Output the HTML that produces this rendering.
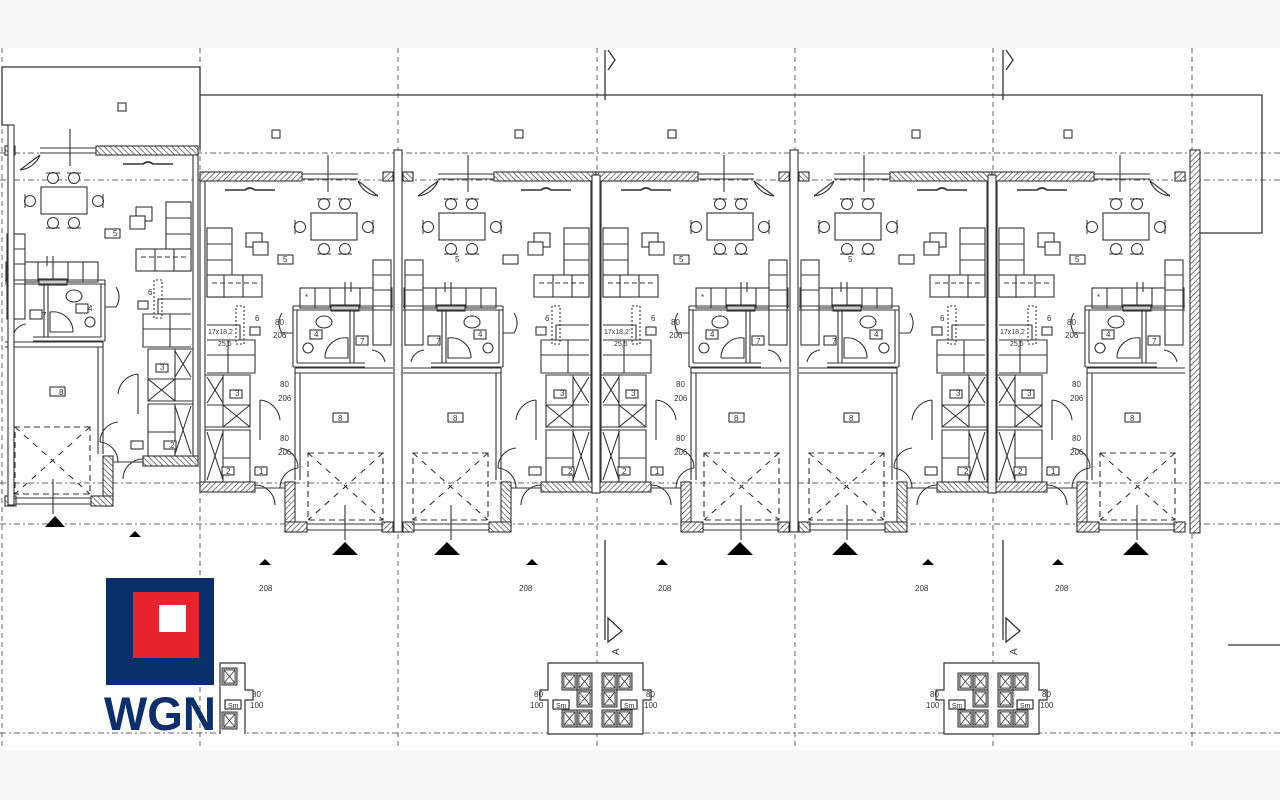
<!DOCTYPE html>
<html><head><meta charset="utf-8"><style>
html,body{margin:0;padding:0;background:#fff}
svg{display:block}
text{font-family:"Liberation Sans",sans-serif;fill:#333}
</style></head><body>
<svg width="1280" height="800" viewBox="0 0 1280 800" xmlns="http://www.w3.org/2000/svg">
<defs>
<pattern id="h" width="4" height="4" patternUnits="userSpaceOnUse" patternTransform="rotate(45)">
<rect width="4" height="4" fill="#fff"/><line x1="0" y1="0" x2="0" y2="4" stroke="#444" stroke-width="1.4"/>
</pattern>
<g id="ch"><circle cx="0" cy="0" r="5.5" fill="#fff" stroke="#333" stroke-width="1"/><line x1="-7" y1="-5" x2="7" y2="-5" stroke="#333" stroke-width="1"/></g>
<g id="bx"><rect x="0" y="0" width="15" height="17" fill="#bbb" stroke="#333"/><rect x="2" y="2" width="11" height="13" fill="#fff" stroke="#333" stroke-width="0.8"/><path d="M2 2 L13 15 M13 2 L2 15" stroke="#333" stroke-width="0.8"/></g>
<g id="A" stroke="#333" stroke-width="1.1" fill="none">
  <rect x="0" y="172" width="5" height="320" fill="#fff"/>
  <rect x="0" y="172" width="102" height="9" fill="url(#h)"/>
  <line x1="102" y1="174" x2="158" y2="174"/><line x1="102" y1="179" x2="158" y2="179"/>
  <path d="M158 181 A24 24 0 0 0 178 196"/><line x1="158" y1="181" x2="178" y2="196"/>
  <rect x="183" y="172" width="10" height="9" fill="url(#h)"/>
  <line x1="128" y1="155" x2="128" y2="192"/>
  <path d="M25 190 H45 Q50 186 55 190 H75" stroke-width="1.6"/>
  <rect x="111" y="213" width="46" height="27" fill="#fff"/>
  <use href="#ch" x="124" y="204"/><use href="#ch" x="145" y="204"/>
  <g transform="translate(124,249) rotate(180)"><use href="#ch"/></g>
  <g transform="translate(145,249) rotate(180)"><use href="#ch"/></g>
  <g transform="translate(100,227) rotate(-90)"><use href="#ch"/></g>
  <g transform="translate(168,227) rotate(90)"><use href="#ch"/></g>
  <rect x="78" y="255" width="15" height="9" fill="#fff"/>
  <rect x="46" y="233" width="16" height="14" fill="#fff"/><rect x="53" y="242" width="15" height="13" fill="#fff"/>
  <rect x="7" y="228" width="25" height="69" fill="#fff"/>
  <line x1="7" y1="244" x2="32" y2="244"/><line x1="7" y1="260" x2="32" y2="260"/>
  <rect x="7" y="275" width="55" height="22" fill="#fff"/>
  <line x1="24" y1="275" x2="24" y2="297"/><line x1="43" y1="275" x2="43" y2="297"/>
  <line x1="12" y1="283" x2="57" y2="283" stroke-dasharray="5 3"/>
  <rect x="100" y="288" width="92" height="20" fill="#fff"/>
  <line x1="115" y1="288" x2="115" y2="308"/><line x1="130" y1="288" x2="130" y2="308"/><line x1="145" y1="288" x2="145" y2="308"/><line x1="160" y1="288" x2="160" y2="308"/><line x1="175" y1="288" x2="175" y2="308"/>
  <rect x="173" y="260" width="18" height="85" fill="#fff"/>
  <line x1="173" y1="275" x2="191" y2="275"/><line x1="173" y1="290" x2="191" y2="290"/>
  <line x1="145" y1="282" x2="145" y2="292"/><line x1="151" y1="282" x2="151" y2="292"/>
  <rect x="131" y="305" width="28" height="6" fill="#ccc"/>
  <path d="M93 306 H193 M93 310 H193 M93 306 V367 M97 310 V363 M97 363 H165 M93 367 H165"/>
  <path d="M150 310 V363 M154 310 V363"/>
  <ellipse cx="124" cy="322" rx="8" ry="6"/>
  <circle cx="108" cy="348" r="5"/>
  <rect x="110" y="330" width="12" height="9" fill="#fff"/>
  <path d="M125 358 H148 V338 A20 20 0 0 0 125 358"/>
  <rect x="156" y="336" width="12" height="9" fill="#fff"/>
  <path d="M172 350 A15 15 0 0 1 185 362"/>
  <path d="M82 313 A18 18 0 0 0 82 333 H93"/>
  <path d="M95 368 H193 M95 373 H193 M95 368 V480 M100 373 V480"/>
  <rect x="85" y="482" width="10" height="50" fill="url(#h)"/>
  <rect x="85" y="522" width="22" height="10" fill="url(#h)"/>
  <rect x="182" y="522" width="11" height="10" fill="url(#h)"/>
  <line x1="107" y1="524" x2="182" y2="524"/><line x1="107" y1="530" x2="182" y2="530"/>
  <rect x="108" y="453" width="75" height="67" stroke-dasharray="6 4"/>
  <path d="M108 453 L183 520 M183 453 L108 520" stroke-dasharray="6 6"/>
  <line x1="145" y1="505" x2="145" y2="540"/>
  <rect x="133" y="413" width="15" height="9" fill="#fff"/>
  <path d="M98 468 A20 20 0 0 0 80 448 M98 468 A20 20 0 0 0 80 488"/>
  <path d="M7 325 H40 V340 H55 V373 H7 M7 340 H40 M7 355 H55 M28 340 V373"/>
  <rect x="36" y="306" width="8" height="38" stroke-dasharray="2 2"/>
  <rect x="50" y="327" width="10" height="8" fill="#fff"/>
  <path d="M5 375 H50 V427 H5 M23 375 V427 M7 405 H50"/>
  <path d="M7 377 L23 403 M23 377 L7 403 M23 405 L50 427 M50 405 L23 427"/>
  <rect x="30" y="390" width="12" height="8" fill="#fff"/>
  <path d="M5 430 H50 V482 M23 430 V482 M23 458 H50 M7 432 L23 480 M23 432 L7 480"/>
  <rect x="22" y="467" width="12" height="8" fill="#fff"/>
  <rect x="55" y="467" width="12" height="8" fill="#fff"/>
  <path d="M60 400 A22 22 0 0 1 80 420 M60 400 V440"/>
  <path d="M55 485 A20 20 0 0 1 75 505"/>
  <rect x="0" y="482" width="55" height="10" fill="url(#h)"/>
  <line x1="55" y1="488" x2="85" y2="488"/>
</g>
<g id="AT" font-size="8" fill="#333">
  <text x="80" y="387">80</text><text x="78" y="401">206</text>
  <text x="75" y="325">80</text><text x="73" y="338">206</text>
  <text x="80" y="441">80</text><text x="78" y="455">206</text>
  <text x="55" y="321">6</text><text x="35" y="396">3</text><text x="26" y="474">2</text><text x="59" y="474">1</text>
  <text x="83" y="262">5</text><text x="114" y="337">4</text><text x="160" y="344">7</text><text x="138" y="421">8</text>
  <text x="8" y="334" font-size="7">17x18,2</text><text x="18" y="346" font-size="7">25,5</text>
  <text x="105" y="300">*</text>
</g>
</defs>

<rect x="0" y="0" width="1280" height="48" fill="#f7f7f7"/>
<rect x="0" y="750" width="1280" height="50" fill="#f7f7f7"/>

<g stroke="#666" stroke-width="1" stroke-dasharray="6 3 2 3" fill="none">
  <line x1="0" y1="153" x2="1280" y2="153"/>
  <line x1="0" y1="180" x2="1280" y2="180"/>
  <line x1="0" y1="483" x2="1280" y2="483"/>
  <line x1="0" y1="524" x2="1280" y2="524"/>
  <line x1="0" y1="733" x2="1280" y2="733"/>
</g>
<g stroke="#666" stroke-width="1" stroke-dasharray="5 4" fill="none">
  <line x1="2" y1="48" x2="2" y2="750"/>
  <line x1="200" y1="48" x2="200" y2="750"/>
  <line x1="398" y1="48" x2="398" y2="750"/>
  <line x1="597" y1="48" x2="597" y2="750"/>
  <line x1="795" y1="48" x2="795" y2="750"/>
  <line x1="993" y1="48" x2="993" y2="750"/>
  <line x1="1192" y1="48" x2="1192" y2="750"/>
</g>

<g stroke="#333" stroke-width="1.3" fill="none">
  <path d="M2 67 H200 V150"/>
  <path d="M200 95 H1262 V233 H1200"/>
  <path d="M2 67 V125 H8"/>
  <line x1="1228" y1="645" x2="1280" y2="645"/>
</g>
<g fill="#fff" stroke="#333" stroke-width="1.1">
  <rect x="118" y="103" width="8" height="8"/><rect x="272" y="130" width="8" height="8"/>
  <rect x="515" y="130" width="8" height="8"/><rect x="668" y="130" width="8" height="8"/>
  <rect x="912" y="130" width="8" height="8"/><rect x="1064" y="130" width="8" height="8"/>
</g>

<use href="#A" transform="translate(198,-26) scale(-1,1)"/>
<use href="#A" transform="translate(200,0)"/>
<use href="#A" transform="translate(596,0) scale(-1,1)"/>
<use href="#A" transform="translate(596,0)"/>
<use href="#A" transform="translate(992,0) scale(-1,1)"/>
<use href="#A" transform="translate(992,0)"/>
<use href="#AT" transform="translate(200,0)"/>
<use href="#AT" transform="translate(596,0)"/>
<use href="#AT" transform="translate(992,0)"/>
<g font-size="8" fill="#333">
  <text x="455" y="262">5</text><text x="478" y="337">4</text><text x="436" y="344">7</text><text x="453" y="421">8</text><text x="545" y="321">6</text><text x="560" y="396">3</text><text x="568" y="474">2</text>
  <text x="848" y="262">5</text><text x="874" y="337">4</text><text x="832" y="344">7</text><text x="849" y="421">8</text><text x="940" y="321">6</text><text x="956" y="396">3</text><text x="964" y="474">2</text>
  <text x="113" y="236">5</text><text x="88" y="311">4</text><text x="42" y="318">7</text><text x="59" y="395">8</text><text x="148" y="295">6</text><text x="160" y="370">3</text><text x="170" y="448">2</text>
</g>

<g stroke="#333" stroke-width="1.1" fill="#fff">
  <rect x="394" y="150" width="8" height="382"/>
  <rect x="790" y="150" width="8" height="382"/>
  <rect x="592" y="175" width="8" height="318"/>
  <rect x="988" y="175" width="8" height="318"/>
  <rect x="1190" y="150" width="10" height="383" fill="url(#h)"/>
  <rect x="8" y="125" width="6" height="380" />
</g>

<g fill="#000">
  <polygon points="55,516 45,527 65,527"/>
  <polygon points="345,542 332,555 358,555"/><polygon points="447,542 434,555 460,555"/>
  <polygon points="740,542 727,555 753,555"/><polygon points="845,542 832,555 858,555"/>
  <polygon points="1136,542 1123,555 1149,555"/>
  <polygon points="135,531 129,537 141,537"/>
  <polygon points="265,559 259,565 271,565"/><polygon points="532,559 526,565 538,565"/>
  <polygon points="662,559 656,565 668,565"/><polygon points="928,559 922,565 934,565"/>
  <polygon points="1058,559 1052,565 1064,565"/>
</g>
<g font-size="8" fill="#444">
  <text x="259" y="591">208</text><text x="519" y="591">208</text><text x="658" y="591">208</text>
  <text x="915" y="591">208</text><text x="1055" y="591">208</text>
</g>

<g stroke="#333" stroke-width="1.3" fill="#fff">
  <line x1="605" y1="50" x2="605" y2="100"/><polyline points="608,50 615,60 608,70" />
  <line x1="1003" y1="50" x2="1003" y2="100"/><polyline points="1006,50 1013,60 1006,70"/>
  <line x1="605" y1="540" x2="605" y2="640"/><polygon points="608,618 622,631 608,642"/>
  <line x1="1003" y1="540" x2="1003" y2="640"/><polygon points="1006,618 1020,631 1006,642"/>
</g>
<text x="0" y="0" font-size="10" transform="translate(619,655) rotate(-90)">A</text>
<text x="0" y="0" font-size="10" transform="translate(1017,655) rotate(-90)">A</text>

<g stroke="#333" stroke-width="1.2" fill="#fff">
  <path d="M548 734 V700 H540 V690 H548 V663 H643 V690 H651 V700 H643 V734 Z"/>
  <path d="M944 734 V700 H936 V690 H944 V663 H1039 V690 H1047 V700 H1039 V734 Z"/>
  <path d="M220 734 V663 H245 V690 H253 V700 H245 V734"/>
  <rect x="553" y="700" width="16" height="9"/><rect x="621" y="700" width="16" height="9"/>
  <rect x="949" y="700" width="16" height="9"/><rect x="1017" y="700" width="16" height="9"/>
  <rect x="225" y="700" width="16" height="9"/>
</g>
<g id="bins">
  <use href="#bx" x="562" y="673"/><use href="#bx" x="577" y="673"/><use href="#bx" x="577" y="690"/><use href="#bx" x="562" y="710"/><use href="#bx" x="577" y="710"/>
  <use href="#bx" x="602" y="673"/><use href="#bx" x="617" y="673"/><use href="#bx" x="602" y="690"/><use href="#bx" x="602" y="710"/><use href="#bx" x="617" y="710"/>
</g>
<use href="#bins" x="396"/>
<use href="#bx" x="222" y="668"/><use href="#bx" x="222" y="712"/>
<g font-size="8" fill="#444">
  <text x="534" y="697">80</text><text x="530" y="708">100</text><text x="646" y="697">80</text><text x="644" y="708">100</text>
  <text x="930" y="697">80</text><text x="926" y="708">100</text><text x="1042" y="697">80</text><text x="1040" y="708">100</text>
  <text x="252" y="697">80</text><text x="250" y="708">100</text>
  <text x="556" y="708" font-size="7">Sm</text><text x="624" y="708" font-size="7">Sm</text>
  <text x="952" y="708" font-size="7">Sm</text><text x="1020" y="708" font-size="7">Sm</text><text x="228" y="708" font-size="7">Sm</text>
</g>

<rect x="106" y="578" width="108" height="107" fill="#0b2f6b"/>
<rect x="133" y="592" width="66" height="66" fill="#e8232f"/>
<rect x="159" y="605" width="27" height="27" fill="#fff"/>
<text x="104" y="730" font-size="47" font-weight="bold" style="fill:#0b2f6b" textLength="112" lengthAdjust="spacingAndGlyphs">WGN</text>
</svg>
</body></html>
